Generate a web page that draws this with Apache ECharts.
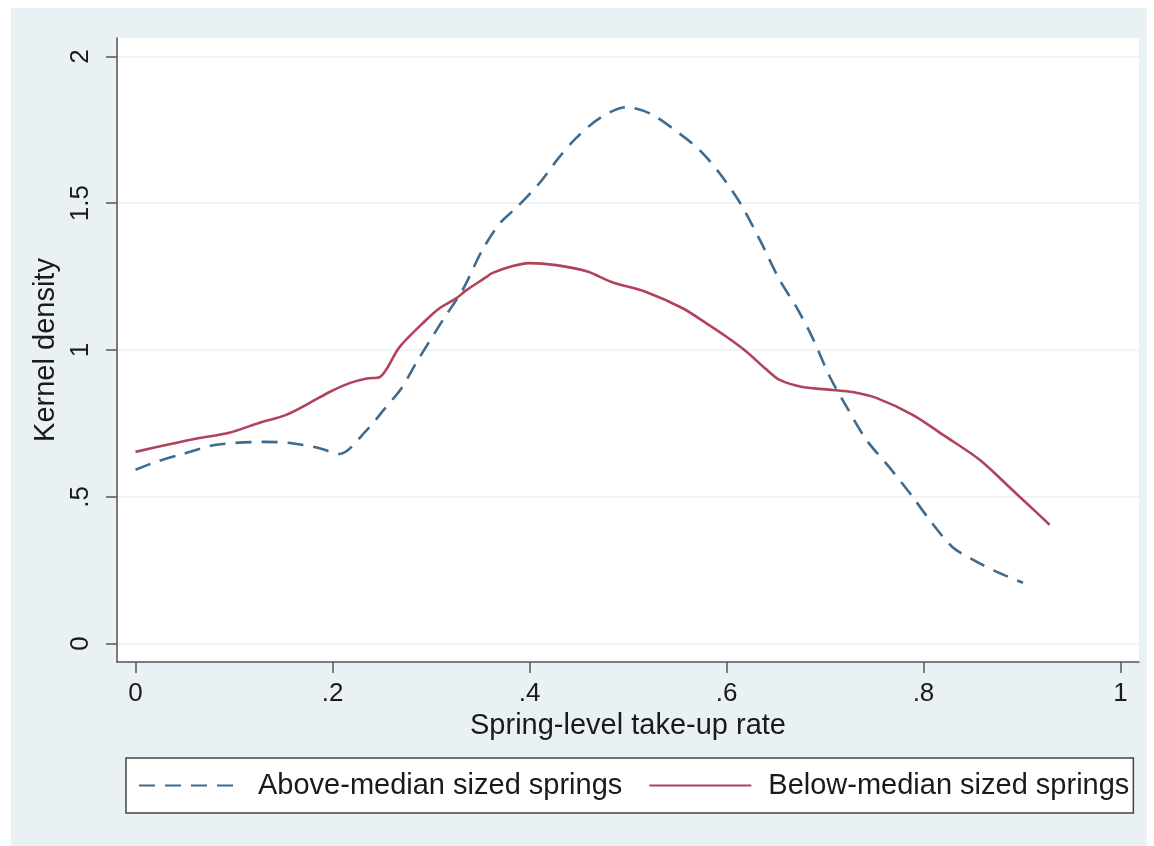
<!DOCTYPE html>
<html>
<head>
<meta charset="utf-8">
<script src="https://cdn.jsdelivr.net/npm/echarts@6/dist/echarts.min.js"></script>
<style>
  html, body { margin: 0; padding: 0; background: #ffffff; }
  #bg { position: absolute; left: 11px; top: 8px; width: 1136px; height: 838px; background: #eaf1f4; }
  #chart { position: absolute; left: 0; top: 0; width: 1154px; height: 846px; }
</style>
</head>
<body>
<div id="bg"></div>
<div id="chart"></div>
<script>
// ---- data ----
const xTicks = [0, 0.2, 0.4, 0.6, 0.8, 1];
const yTicks = [0, 0.5, 1, 1.5, 2];

const aboveX = [0, 0.02, 0.048, 0.082, 0.13, 0.155, 0.185, 0.207, 0.235, 0.252, 0.27, 0.285, 0.312, 0.332, 0.352, 0.37, 0.387, 0.41, 0.43, 0.448, 0.471, 0.498, 0.522, 0.552, 0.573, 0.593, 0.614, 0.634, 0.654, 0.671, 0.687, 0.705, 0.722, 0.742, 0.765, 0.789, 0.806, 0.829, 0.85, 0.874, 0.901];
const aboveY = [0.592, 0.618, 0.646, 0.677, 0.687, 0.684, 0.667, 0.646, 0.728, 0.796, 0.87, 0.956, 1.102, 1.204, 1.34, 1.432, 1.486, 1.568, 1.656, 1.724, 1.789, 1.827, 1.806, 1.738, 1.68, 1.602, 1.5, 1.374, 1.238, 1.146, 1.044, 0.908, 0.806, 0.694, 0.602, 0.5, 0.422, 0.33, 0.286, 0.245, 0.207];

const belowX = [0, 0.032, 0.065, 0.095, 0.126, 0.153, 0.177, 0.197, 0.218, 0.235, 0.248, 0.268, 0.295, 0.309, 0.326, 0.336, 0.356, 0.362, 0.383, 0.4, 0.427, 0.458, 0.484, 0.519, 0.555, 0.58, 0.6, 0.62, 0.64, 0.654, 0.677, 0.708, 0.728, 0.752, 0.789, 0.823, 0.857, 0.89, 0.915, 0.928];
const belowY = [0.653, 0.677, 0.7, 0.718, 0.752, 0.779, 0.82, 0.857, 0.888, 0.903, 0.908, 1.01, 1.102, 1.143, 1.177, 1.204, 1.248, 1.262, 1.286, 1.296, 1.289, 1.268, 1.231, 1.197, 1.143, 1.09, 1.045, 0.995, 0.935, 0.898, 0.874, 0.864, 0.857, 0.837, 0.779, 0.704, 0.626, 0.524, 0.446, 0.405];

const seriesNames = ['Above-median sized springs', 'Below-median sized springs'];

function fmt(v) {
  if (v === 0) return '0';
  let s = String(Math.round(v * 10) / 10);
  if (s.startsWith('0.')) s = s.slice(1);
  return s;
}
function pairs(xs, ys) { return xs.map((x, i) => [x, ys[i]]); }

const FONT = 'Liberation Sans';
const chart = echarts.init(document.getElementById('chart'), null, { renderer: 'canvas' });
chart.setOption({
  backgroundColor: 'transparent',
  animation: false,
  textStyle: { fontFamily: FONT, color: '#1a1a1a' },
  grid: {
    left: 117, right: 15, top: 38, bottom: 184,
    show: true, backgroundColor: '#ffffff', borderWidth: 0
  },
  xAxis: {
    type: 'value',
    min: -0.0188, max: 1.0188,
    name: 'Spring-level take-up rate',
    nameLocation: 'middle',
    nameGap: 42,
    nameTextStyle: { fontFamily: FONT, fontSize: 29, color: '#1a1a1a' },
    axisLine: { show: true, onZero: false, lineStyle: { color: '#555', width: 1.5 } },
    axisTick: { show: true, length: 11, customValues: xTicks, lineStyle: { color: '#555', width: 1.5 } },
    axisLabel: { customValues: xTicks, formatter: fmt, margin: 19, fontFamily: FONT, fontSize: 26, color: '#1a1a1a' },
    splitLine: { show: false }
  },
  yAxis: {
    type: 'value',
    min: -0.0627, max: 2.0627,
    name: 'Kernel density',
    nameLocation: 'middle',
    nameRotate: 90,
    nameGap: 54,
    nameTextStyle: { fontFamily: FONT, fontSize: 29, color: '#1a1a1a' },
    axisLine: { show: true, onZero: false, lineStyle: { color: '#555', width: 1.5 } },
    axisTick: { show: true, length: 11, customValues: yTicks, lineStyle: { color: '#555', width: 1.5 } },
    axisLabel: { customValues: yTicks, formatter: fmt, rotate: 90, margin: 23, fontFamily: FONT, fontSize: 26, color: '#1a1a1a' },
    splitLine: { show: true, lineStyle: { color: '#eceff0', width: 1.5 } }
  },
  legend: {
    left: 126, top: 758,
    orient: 'horizontal',
    data: seriesNames,
    backgroundColor: '#ffffff',
    borderColor: '#444',
    borderWidth: 1.5,
    borderRadius: 0,
    padding: [13, 4, 13, 12],
    itemWidth: 102,
    itemHeight: 14,
    itemGap: 26,
    itemStyle: { color: 'transparent', borderWidth: 0, opacity: 0 },
    textStyle: { fontFamily: FONT, fontSize: 29, color: '#1a1a1a', lineHeight: 29, padding: [0, 0, 0, 12] }
  },
  series: [
    {
      name: seriesNames[0],
      type: 'line',
      data: pairs(aboveX, aboveY),
      symbol: 'none',
      smooth: 0.3,
      lineStyle: { color: '#3f6b8e', width: 2.6, type: [16, 10] },
      itemStyle: { color: '#3f6b8e' }
    },
    {
      name: seriesNames[1],
      type: 'line',
      data: pairs(belowX, belowY),
      symbol: 'none',
      smooth: 0.3,
      lineStyle: { color: '#b0435a', width: 2.6 },
      itemStyle: { color: '#b0435a' }
    }
  ]
});
</script>
</body>
</html>
